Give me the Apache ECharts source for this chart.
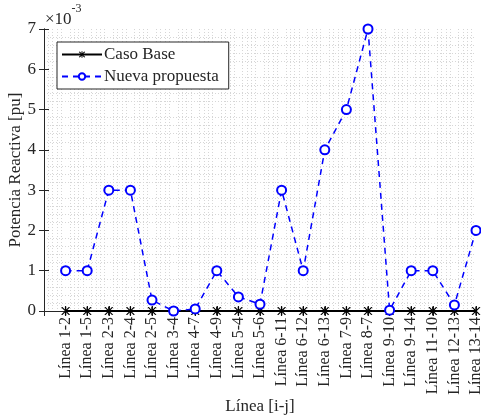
<!DOCTYPE html>
<html><head><meta charset="utf-8">
<script src="https://cdn.jsdelivr.net/npm/echarts@6/dist/echarts.min.js"></script>
<style>html,body{margin:0;padding:0;background:#fff}#c{width:481px;height:419px}</style>
</head><body><div id="c"></div>
<script>
const categories = ['Línea 1-2','Línea 1-5','Línea 2-3','Línea 2-4','Línea 2-5','Línea 3-4','Línea 4-7','Línea 4-9','Línea 5-4','Línea 5-6','Línea 6-11','Línea 6-12','Línea 6-13','Línea 7-9','Línea 8-7','Línea 9-10','Línea 9-14','Línea 11-10','Línea 12-13','Línea 13-14'];
const casoBase = [0,0,0,0,0,0,0,0,0,0,0,0,0,0,0,0,0,0,0,0];
const nuevaPropuesta = [1,1,3,3,0.27,0,0.05,1,0.35,0.17,3,1,4,5,7,0.02,1,1,0.15,2];
const yTicks = [0,1,2,3,4,5,6,7];

const FONT = 'Liberation Serif';
const TXT = '#262626';
const ast = 'path://M-0.9,-10L0.9,-10L0.9,10L-0.9,10Z M4.13,9.16L5.87,8.16L-4.13,-9.16L-5.87,-8.16Z M-4.13,9.16L-5.87,8.16L4.13,-9.16L5.87,-8.16Z';

const chart = echarts.init(document.getElementById('c'), null, {renderer:'canvas'});
const xs = (arr) => arr.map((v,i)=>[i+1, v]);
const minorGrid = {show:true, lineStyle:{color:'#d6d6d6', type:[1,2], width:1}};
chart.setOption({
  animation:false,
  backgroundColor:'#fff',
  textStyle:{fontFamily:FONT},
  grid:{left:44, right:5, top:29, bottom:108, containLabel:false, outerBoundsMode:'none'},
  legend:{
    left:57, top:42, orient:'vertical',
    backgroundColor:'#fff', borderColor:'#262626', borderWidth:1,
    padding:[4,10,4,4], itemGap:5, itemWidth:40, itemHeight:8,
    textStyle:{fontFamily:FONT, fontSize:17, color:TXT, padding:[0,0,0,-3]},
    data:['Caso Base','Nueva propuesta']
  },
  xAxis:[{
    type:'value', min:0, max:20, interval:1,
    name:'Línea [i-j]', nameLocation:'middle', nameGap:87, nameMoveOverlap:false,
    nameTextStyle:{fontFamily:FONT, fontSize:17, color:TXT},
    axisLine:{show:true, lineStyle:{color:'#262626', width:1}},
    axisTick:{show:true, inside:true, length:5, lineStyle:{color:'#262626'}},
    axisLabel:{rotate:90, fontFamily:FONT, fontSize:16, color:TXT, margin:6,
      formatter:(v)=> (v>=1 && v<=20) ? categories[v-1] : ''},
    splitLine:{show:false},
    minorTick:{show:false, splitNumber:5},
    minorSplitLine:minorGrid
  },{
    type:'value', min:0, max:20, interval:1, position:'top',
    axisLine:{show:true, lineStyle:{color:'#262626', width:1}},
    axisTick:{show:true, inside:true, length:5, lineStyle:{color:'#262626'}},
    axisLabel:{show:false}, splitLine:{show:false}
  }],
  yAxis:[{
    type:'value', min:0, max:7, interval:1,
    name:'Potencia Reactiva [pu]', nameLocation:'middle', nameGap:20, nameMoveOverlap:false,
    nameTextStyle:{fontFamily:FONT, fontSize:17, color:TXT},
    axisLine:{show:true, lineStyle:{color:'#262626', width:1}},
    axisTick:{show:true, inside:true, length:5, lineStyle:{color:'#262626'}},
    axisLabel:{fontFamily:FONT, fontSize:17, color:TXT, margin:8,
      formatter:(v)=> yTicks.includes(v) ? String(v) : ''},
    splitLine:{show:false},
    minorTick:{show:false, splitNumber:5},
    minorSplitLine:minorGrid
  },{
    type:'value', min:0, max:7, interval:1, position:'right',
    axisLine:{show:true, lineStyle:{color:'#262626', width:1}},
    axisTick:{show:true, inside:true, length:5, lineStyle:{color:'#262626'}},
    axisLabel:{show:false}, splitLine:{show:false}
  }],
  graphic:[{
    type:'text', left:45, top:3,
    style:{text:'{a|×10}{b|-3}', rich:{
      a:{fontFamily:FONT, fontSize:17, fill:TXT, verticalAlign:'bottom', padding:[8,0,0,0]},
      b:{fontFamily:FONT, fontSize:12, fill:TXT, verticalAlign:'top', padding:[0,0,9,0]}
    }}
  }],
  series:[{
    name:'Caso Base', type:'line', data:xs(casoBase),
    symbol:ast, symbolSize:9, showAllSymbol:true,
    lineStyle:{color:'#000', width:2},
    itemStyle:{color:'#000'}, z:2
  },{
    name:'Nueva propuesta', type:'line', data:xs(nuevaPropuesta),
    symbol:'emptyCircle', symbolSize:9, showAllSymbol:true,
    lineStyle:{color:'#0000ff', width:1.5, type:[6,5]},
    itemStyle:{color:'#0000ff', borderColor:'#0000ff', borderWidth:1.5}, z:3
  }]
});
</script></body></html>
